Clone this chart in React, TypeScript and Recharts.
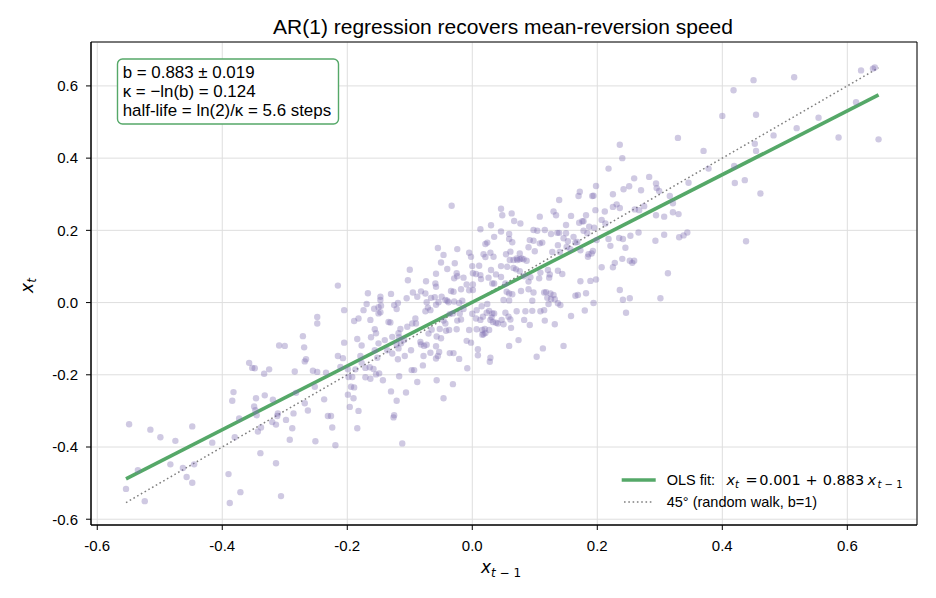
import React from 'react';
import {
  ScatterChart,
  Scatter,
  XAxis,
  YAxis,
  CartesianGrid,
  ReferenceLine,
  ReferenceArea,
} from 'recharts';

// ---- data ----
const xTicks = [-0.6, -0.4, -0.2, 0, 0.2, 0.4, 0.6];
const yTicks = [-0.6, -0.4, -0.2, 0, 0.2, 0.4, 0.6];
const xDomain: [number, number] = [-0.61, 0.7115];
const yDomain: [number, number] = [-0.616, 0.7216];

const olsIntercept = 0.001;
const olsSlope = 0.883;
const olsStdErr = 0.019;

const chartTitle = 'AR(1) regression recovers mean-reversion speed';
const walkLabel = '45° (random walk, b=1)';

// lagged value x_{t-1}, current value x_t
const scatterPoints: [number, number][] = [
  [-0.549,-0.337],[-0.515,-0.352],[-0.499,-0.373],[-0.475,-0.383],[-0.448,-0.343],[-0.416,-0.388],
  [-0.535,-0.464],[-0.554,-0.516],[-0.524,-0.550],[-0.483,-0.448],[-0.463,-0.458],[-0.445,-0.448],
  [-0.457,-0.483],[-0.448,-0.499],[-0.390,-0.475],[-0.388,-0.555],[-0.371,-0.525],[-0.306,-0.536],
  [-0.314,-0.445],[-0.339,-0.417],[-0.292,-0.380],[-0.251,-0.384],[-0.219,-0.395],[-0.382,-0.248],
  [-0.384,-0.272],[-0.373,-0.321],[-0.380,-0.373],[-0.346,-0.265],[-0.332,-0.257],[-0.319,-0.269],
  [-0.349,-0.288],[-0.347,-0.298],[-0.345,-0.312],[-0.343,-0.357],[-0.338,-0.346],[-0.320,-0.331],
  [-0.314,-0.338],[-0.312,-0.314],[-0.311,-0.307],[-0.298,-0.325],[-0.288,-0.348],[-0.286,-0.307],
  [-0.282,-0.250],[-0.357,-0.167],[-0.352,-0.181],[-0.348,-0.182],[-0.333,-0.197],[-0.325,-0.185],
  [-0.284,-0.191],[-0.263,-0.299],[-0.231,-0.314],[-0.226,-0.314],[-0.224,-0.346],[-0.182,-0.300],
  [-0.184,-0.348],[-0.126,-0.318],[-0.125,-0.312],[-0.112,-0.390],[-0.309,-0.119],[-0.300,-0.120],
  [-0.271,-0.093],[-0.269,-0.124],[-0.266,-0.157],[-0.268,-0.163],[-0.255,-0.189],[-0.248,-0.192],
  [-0.234,-0.194],[-0.252,-0.233],[-0.268,-0.279],[-0.237,-0.268],[-0.248,-0.040],[-0.248,-0.058],
  [-0.215,0.047],[-0.205,-0.021],[-0.205,-0.111],[-0.215,-0.148],[-0.207,-0.154],[-0.211,-0.178],
  [-0.199,-0.185],[-0.198,-0.206],[-0.192,-0.206],[-0.194,-0.233],[-0.189,-0.235],[-0.199,-0.255],
  [-0.190,-0.265],[-0.196,-0.289],[-0.189,-0.051],[-0.182,-0.044],[-0.184,-0.101],[-0.177,-0.119],
  [-0.174,-0.021],[-0.167,0.026],[-0.169,-0.004],[-0.163,-0.048],[-0.157,-0.017],[-0.156,-0.074],
  [-0.154,-0.085],[-0.150,-0.113],[-0.147,0.007],[-0.147,0.016],[-0.150,-0.013],[-0.146,-0.009],
  [-0.147,-0.027],[-0.130,0.024],[-0.134,-0.054],[-0.131,-0.055],[-0.119,-0.001],[-0.121,-0.018],
  [-0.125,-0.007],[-0.115,-0.073],[-0.118,-0.085],[-0.117,-0.096],[-0.121,-0.116],[-0.114,-0.113],
  [-0.109,-0.104],[-0.104,-0.067],[-0.096,-0.058],[-0.090,-0.058],[-0.091,-0.044],[-0.100,0.091],
  [-0.103,0.062],[-0.105,0.012],[-0.095,0.028],[-0.088,0.016],[-0.082,0.031],[-0.075,0.025],
  [-0.074,0.059],[-0.073,0.001],[-0.071,-0.014],[-0.075,-0.024],[-0.066,0.013],[-0.067,-0.021],
  [-0.060,0.015],[-0.058,-0.006],[-0.054,0.001],[-0.049,0.016],[-0.043,0.007],[-0.040,0.005],
  [-0.038,0.001],[-0.059,0.053],[-0.058,0.044],[-0.058,0.080],[-0.050,0.111],[-0.040,0.093],
  [-0.029,0.067],[-0.025,0.081],[-0.024,0.073],[-0.028,0.109],[-0.014,0.069],[0.000,0.101],
  [0.001,0.081],[0.006,0.079],[0.011,0.102],[0.013,0.076],[0.014,0.065],[0.001,0.050],
  [-0.009,0.050],[-0.018,0.037],[-0.030,0.030],[-0.034,0.032],[-0.029,0.003],[-0.021,-0.001],
  [-0.016,0.005],[-0.005,0.034],[0.001,0.035],[-0.014,-0.018],[-0.020,-0.030],[-0.031,-0.030],
  [-0.036,-0.032],[-0.024,-0.050],[-0.018,-0.047],[-0.025,-0.074],[-0.043,-0.058],[-0.046,-0.050],
  [-0.042,-0.078],[-0.037,-0.076],[-0.052,-0.073],[-0.057,-0.094],[-0.050,-0.099],[-0.065,-0.075],
  [-0.070,-0.086],[-0.083,-0.109],[-0.082,-0.116],[-0.077,-0.120],[-0.073,-0.117],[-0.058,-0.121],
  [-0.067,-0.139],[-0.055,-0.148],[-0.053,-0.137],[-0.036,-0.140],[-0.030,-0.140],[-0.021,-0.156],
  [-0.009,-0.106],[-0.002,-0.111],[-0.005,-0.076],[0.007,-0.074],[0.006,-0.044],[0.000,-0.031],
  [0.007,-0.021],[0.015,-0.010],[0.017,-0.039],[0.013,-0.048],[0.016,-0.076],[0.020,-0.073],
  [0.021,-0.084],[0.018,-0.088],[0.016,-0.089],[0.027,-0.076],[0.023,-0.028],[0.027,-0.023],
  [0.032,-0.030],[0.035,-0.030],[0.031,-0.041],[0.029,-0.048],[0.033,-0.054],[0.024,-0.004],
  [0.026,0.069],[0.032,0.053],[0.035,0.053],[0.038,0.078],[0.030,0.090],[0.046,0.101],
  [0.056,0.099],[0.060,0.118],[0.066,0.118],[0.072,0.118],[0.076,0.120],[0.082,0.120],
  [0.087,0.116],[0.046,0.071],[0.053,0.053],[0.059,0.025],[0.064,0.023],[0.055,0.030],
  [0.050,0.007],[0.059,0.006],[0.066,0.096],[0.070,0.092],[0.076,0.087],[0.078,0.032],
  [0.083,0.073],[0.090,0.058],[0.093,0.070],[0.090,0.037],[0.098,0.028],[0.096,0.005],
  [0.096,-0.023],[0.085,-0.024],[0.107,0.067],[0.109,0.083],[0.115,0.028],[0.118,0.029],
  [0.120,0.013],[0.122,-0.004],[0.126,0.010],[0.125,0.025],[0.130,0.021],[0.115,-0.021],
  [0.116,-0.050],[0.121,0.090],[0.123,0.069],[0.124,0.078],[0.137,0.088],[0.144,0.079],
  [0.132,0.009],[0.137,-0.002],[0.141,-0.007],[0.132,-0.060],[0.146,-0.120],[0.165,0.019],
  [0.169,0.021],[0.173,0.059],[0.182,0.026],[0.180,-0.022],[0.189,0.060],[0.198,0.064],
  [0.194,-0.001],[0.158,-0.037],[0.113,-0.127],[0.103,-0.150],[0.074,-0.104],[0.059,-0.120],
  [0.062,-0.070],[0.050,-0.060],[0.047,-0.048],[0.053,-0.028],[0.058,-0.039],[0.061,-0.047],
  [0.071,-0.024],[0.083,-0.048],[0.092,-0.062],[0.109,-0.024],[0.038,-0.056],[0.041,-0.058],
  [0.009,-0.129],[0.009,-0.146],[0.029,-0.153],[0.028,-0.164],[-0.008,-0.182],[-0.031,-0.226],
  [-0.046,-0.265],[-0.057,-0.215],[-0.058,-0.155],[-0.078,-0.148],[-0.079,-0.174],[-0.088,-0.220],
  [-0.106,-0.249],[-0.093,-0.187],[-0.097,-0.187],[-0.117,-0.204],[-0.121,-0.272],[-0.130,-0.246],
  [-0.143,-0.215],[-0.149,-0.196],[-0.154,-0.199],[-0.163,-0.211],[-0.164,-0.179],[-0.171,-0.181],
  [-0.177,-0.167],[-0.179,-0.148],[-0.187,-0.185],[-0.171,-0.207],[-0.152,-0.153],[-0.156,-0.132],
  [-0.136,-0.132],[-0.128,-0.141],[-0.119,-0.157],[-0.108,-0.148],[-0.098,-0.132],[-0.118,-0.127],
  [-0.140,-0.104],[-0.128,-0.095],[-0.162,-0.096],[-0.150,-0.030],[-0.158,-0.184],
  [-0.055,0.151],[-0.046,0.132],[-0.002,0.127],[0.021,0.126],
  [0.207,0.098],[0.225,0.098],[0.228,0.110],[0.252,0.116],[0.256,0.110],[0.259,0.116],
  [0.313,0.081],[0.236,0.035],[0.241,0.008],[0.252,0.012],[0.301,0.012],[0.246,-0.028],
  [0.644,0.651],[0.641,0.648],[0.622,0.643],[0.515,0.624],[0.450,0.616],[0.418,0.588],
  [0.614,0.555],[0.650,0.452],[0.586,0.457],[0.554,0.512],[0.519,0.483],[0.482,0.463],
  [0.454,0.520],[0.400,0.517],[0.329,0.456],[0.452,0.440],[0.454,0.420],[0.370,0.420],
  [0.419,0.378],[0.378,0.371],[0.420,0.331],[0.436,0.339],[0.461,0.302],[0.438,0.170],
  [0.346,0.332],[0.236,0.437],[0.240,0.400],[0.218,0.371],[0.283,0.348],[0.259,0.344],
  [0.294,0.330],[0.295,0.317],[0.299,0.309],[0.270,0.311],[0.251,0.322],[0.242,0.314],
  [0.225,0.300],[0.198,0.323],[0.194,0.296],[0.192,0.295],[0.170,0.295],[0.172,0.307],
  [0.139,0.284],[0.046,0.260],[0.048,0.242],[0.063,0.247],[0.067,0.226],[0.077,0.219],
  [-0.033,0.268],[0.108,0.238],[0.130,0.252],[0.134,0.242],[0.158,0.240],[0.182,0.242],
  [0.197,0.256],[0.212,0.252],[0.225,0.265],[0.231,0.272],[0.236,0.262],[0.260,0.258],
  [0.267,0.256],[0.275,0.267],[0.316,0.295],[0.321,0.275],[0.294,0.242],[0.307,0.238],
  [0.321,0.250],[0.330,0.245],[0.171,0.221],[0.176,0.225],[0.178,0.225],[0.150,0.215],
  [0.207,0.229],[0.213,0.219],[0.013,0.203],[0.030,0.214],[0.046,0.197],[0.059,0.190],
  [0.059,0.176],[0.064,0.167],[0.035,0.182],[0.024,0.166],[0.021,0.162],[-0.024,0.148],
  [-0.005,0.138],[0.098,0.201],[0.104,0.199],[0.116,0.201],[0.126,0.190],[0.136,0.193],
  [0.139,0.193],[0.150,0.192],[0.162,0.182],[0.187,0.210],[0.195,0.207],[0.178,0.199],
  [0.184,0.192],[0.199,0.173],[0.218,0.176],[0.221,0.157],[0.235,0.179],[0.241,0.176],
  [0.253,0.185],[0.266,0.194],[0.293,0.171],[0.307,0.188],[0.331,0.181],[0.338,0.186],
  [0.344,0.194],[0.092,0.173],[0.098,0.171],[0.108,0.164],[0.112,0.166],[0.100,0.142],
  [0.090,0.153],[0.137,0.159],[0.146,0.178],[0.153,0.170],[0.168,0.168],[0.165,0.166],
  [0.151,0.154],[0.157,0.148],[0.193,0.143],[0.191,0.136],[0.186,0.134],[0.185,0.127],
  [0.173,0.145],[0.240,0.121],[0.245,0.152],[0.128,0.140],[0.140,0.140],[0.018,0.134],
  [0.029,0.138],[0.034,0.127],[0.061,0.141],[0.054,0.134],[0.076,0.136],[0.079,0.122],
  [0.071,0.122],
];

const scatterData = scatterPoints.map(([x, y]) => ({ x, y }));
const xMin = Math.min(...scatterPoints.map((p) => p[0]));
const xMax = Math.max(...scatterPoints.map((p) => p[0]));

const kappa = -Math.log(olsSlope);
const halfLife = Math.LN2 / kappa;

const boxLines = [
  `b = ${olsSlope.toFixed(3)} ± ${olsStdErr.toFixed(3)}`,
  `κ = −ln(b) = ${kappa.toFixed(3)}`,
  `half-life = ln(2)/κ = ${halfLife.toFixed(1)} steps`,
];

const SANS = 'Liberation Sans, Arial, Helvetica, sans-serif';
const MATH = 'DejaVu Sans, sans-serif';
const GREEN = '#55a868';
const PURPLE = '#8172b3';
const GREY = '#7f7f7f';

const fmt = (v: number) => v.toFixed(1);

const Dot = (p: any) => (
  <circle cx={p.cx} cy={p.cy} r={3.2} fill={PURPLE} fillOpacity={0.38} stroke="none" />
);

export default function App() {
  return (
    <div
      style={{
        position: 'absolute',
        left: 0,
        top: 0,
        width: 936,
        height: 598,
        background: '#fff',
      }}
    >
      <ScatterChart width={936} height={598} margin={{ top: 42, right: 19, bottom: 43, left: 31 }}>
        <CartesianGrid stroke="#dedede" strokeWidth={1} />
        <XAxis
          type="number"
          dataKey="x"
          domain={xDomain}
          ticks={xTicks}
          allowDataOverflow
          interval={0}
          tickFormatter={fmt}
          height={30}
          tickSize={5}
          tickMargin={10}
          stroke="#000"
          tick={{ fill: '#000', fontSize: 15, fontFamily: SANS }}
        />
        <YAxis
          type="number"
          dataKey="y"
          domain={yDomain}
          ticks={yTicks}
          allowDataOverflow
          interval={0}
          tickFormatter={fmt}
          width={60}
          tickSize={5}
          tickMargin={8}
          stroke="#000"
          tick={{ fill: '#000', fontSize: 15, fontFamily: SANS }}
        />
        <Scatter data={scatterData} shape={Dot} isAnimationActive={false} />
        <ReferenceLine
          segment={[
            { x: xMin, y: xMin },
            { x: xMax, y: xMax },
          ]}
          stroke={GREY}
          strokeWidth={1.5}
          strokeDasharray="1.6 2.7"
        />
        <ReferenceLine
          segment={[
            { x: xMin, y: olsIntercept + olsSlope * xMin },
            { x: xMax, y: olsIntercept + olsSlope * xMax },
          ]}
          stroke={GREEN}
          strokeWidth={3.6}
        />
        <ReferenceArea
          x1={xDomain[0]}
          x2={xDomain[1]}
          y1={yDomain[0]}
          y2={yDomain[1]}
          fill="none"
          fillOpacity={0}
          stroke="#000"
          strokeWidth={1}
          ifOverflow="visible"
        />
      </ScatterChart>
      <svg
        width={936}
        height={598}
        style={{ position: 'absolute', left: 0, top: 0, pointerEvents: 'none' }}
      >
        <text x={503} y={34} textAnchor="middle" fontSize={21} fontFamily={SANS} fill="#000">
          {chartTitle}
        </text>
        {/* y label */}
        <text
          x={33}
          y={285.5}
          textAnchor="middle"
          transform="rotate(-90 33 285.5)"
          fontFamily={MATH}
          fill="#000"
        >
          <tspan fontSize={17} fontStyle="italic">x</tspan>
          <tspan fontSize={12} fontStyle="italic" dy={3}>t</tspan>
        </text>
        {/* x label */}
        <text x={501} y={573} textAnchor="middle" fontFamily={MATH} fill="#000">
          <tspan fontSize={17} fontStyle="italic">x</tspan>
          <tspan fontSize={12} dy={4}>
            <tspan fontStyle="italic">t</tspan>
            <tspan> − 1</tspan>
          </tspan>
        </text>
        {/* stats box */}
        <rect x={117.5} y={59} width={221} height={65} rx={5} fill="#fff" stroke={GREEN} strokeWidth={1.4} />
        {boxLines.map((s, i) => (
          <text key={i} x={122.7} y={77.5 + i * 19} fontSize={16.9} fontFamily={SANS} fill="#000">
            {s}
          </text>
        ))}
        {/* legend */}
        <line x1={621.7} x2={655.7} y1={480} y2={480} stroke={GREEN} strokeWidth={3.6} />
        <text x={666.7} y={485} fontSize={14.5} fontFamily={SANS} fill="#000">OLS fit:</text>
        <text y={485} fontSize={14.5} fontFamily={MATH} fill="#000">
          <tspan x={726.5} fontStyle="italic">x</tspan>
          <tspan x={735} dy={3} fontSize={10} fontStyle="italic">t</tspan>
          <tspan x={745.5} dy={-3}>=</tspan>
          <tspan x={759.3}>{olsIntercept.toFixed(3)}</tspan>
          <tspan x={805.5}>+</tspan>
          <tspan x={822.7}>{olsSlope.toFixed(3)}</tspan>
          <tspan x={867.5} fontStyle="italic">x</tspan>
          <tspan x={877.5} dy={3} fontSize={10} fontStyle="italic">t</tspan>
          <tspan dy={0} fontSize={10}> − 1</tspan>
        </text>
        <line x1={624} x2={654} y1={502} y2={502} stroke={GREY} strokeWidth={1.5} strokeDasharray="1.6 2.7" />
        <text x={666.7} y={507} fontSize={14.5} fontFamily={SANS} fill="#000">{walkLabel}</text>
      </svg>
    </div>
  );
}
